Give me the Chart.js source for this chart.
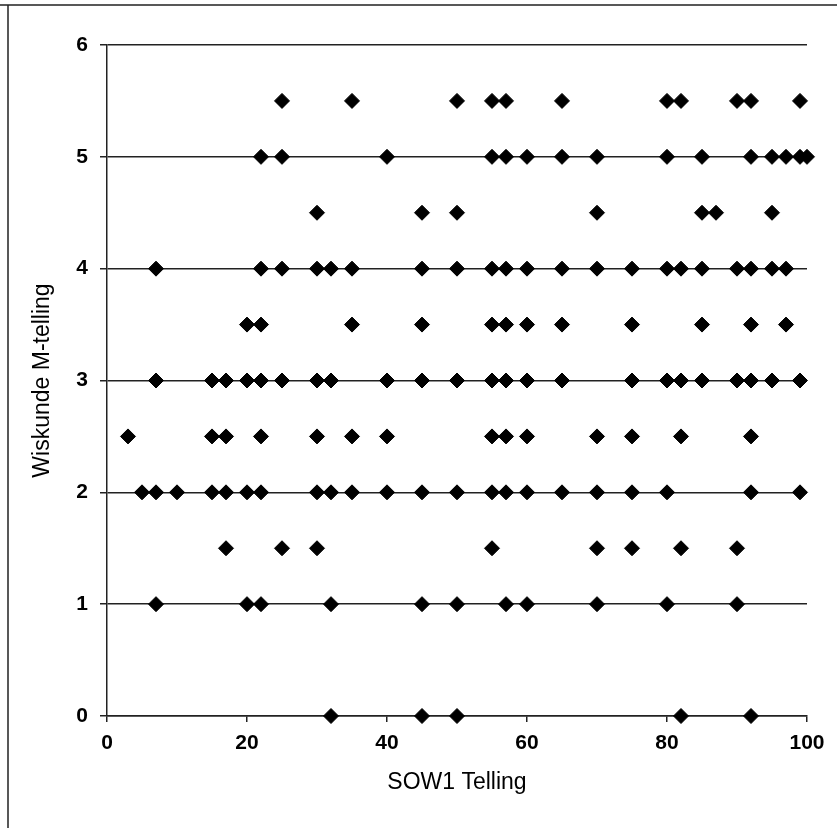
<!DOCTYPE html>
<html>
<head>
<meta charset="utf-8">
<script src="https://cdn.jsdelivr.net/npm/chart.js@4/dist/chart.umd.min.js"></script>
<style>
  html, body { margin: 0; padding: 0; background: #fff; }
  #wrap { width: 837px; height: 828px; position: relative; }
</style>
</head>
<body>
<div id="wrap"><canvas id="c"></canvas></div>
<script>
// SOW1 Telling (x) values, grouped by Wiskunde M-telling (y) level
const yLevels = [0, 1, 1.5, 2, 2.5, 3, 3.5, 4, 4.5, 5, 5.5];
const xAtY0   = [32, 45, 50, 82, 92];
const xAtY1   = [7, 20, 22, 32, 45, 50, 57, 60, 70, 80, 90];
const xAtY1_5 = [17, 25, 30, 55, 70, 75, 82, 90];
const xAtY2   = [5, 7, 10, 15, 17, 20, 22, 30, 32, 35, 40, 45, 50, 55, 57, 60, 65, 70, 75, 80, 92, 99];
const xAtY2_5 = [3, 15, 17, 22, 30, 35, 40, 55, 57, 60, 70, 75, 82, 92];
const xAtY3   = [7, 15, 17, 20, 22, 25, 30, 32, 40, 45, 50, 55, 57, 60, 65, 75, 80, 82, 85, 90, 92, 95, 99];
const xAtY3_5 = [20, 22, 35, 45, 55, 57, 60, 65, 75, 85, 92, 97];
const xAtY4   = [7, 22, 25, 30, 32, 35, 45, 50, 55, 57, 60, 65, 70, 75, 80, 82, 85, 90, 92, 95, 97];
const xAtY4_5 = [30, 45, 50, 70, 85, 87, 95];
const xAtY5   = [22, 25, 40, 55, 57, 60, 65, 70, 80, 85, 92, 95, 97, 99, 100];
const xAtY5_5 = [25, 35, 50, 55, 57, 65, 80, 82, 90, 92, 99];
const xGroups = [xAtY0, xAtY1, xAtY1_5, xAtY2, xAtY2_5, xAtY3, xAtY3_5, xAtY4, xAtY4_5, xAtY5, xAtY5_5];

const xTitle = 'SOW1 Telling';
const yTitle = 'Wiskunde M-telling';

const points = [];
xGroups.forEach((xs, i) => xs.forEach(x => points.push({ x: x, y: yLevels[i] })));

const FONT = "'Liberation Sans', Arial, sans-serif";

const framePlugin = {
  id: 'frame',
  beforeDraw(chart) {
    const ctx = chart.ctx;
    ctx.save();
    ctx.fillStyle = '#fff';
    ctx.fillRect(0, 0, chart.width, chart.height);
    ctx.strokeStyle = '#222';
    ctx.lineWidth = 1.5;
    ctx.beginPath();
    ctx.moveTo(0, 5);
    ctx.lineTo(chart.width, 5);
    ctx.moveTo(8, 5);
    ctx.lineTo(8, chart.height);
    ctx.stroke();
    ctx.restore();
  }
};

new Chart(document.getElementById('c'), {
  type: 'scatter',
  data: {
    datasets: [{
      data: points,
      pointStyle: 'rectRot',
      pointRadius: 7.5,
      pointHoverRadius: 7.5,
      backgroundColor: '#000',
      borderColor: '#000',
      borderWidth: 1,
      clip: false
    }]
  },
  options: {
    responsive: true,
    maintainAspectRatio: false,
    animation: false,
    events: [],
    layout: { padding: { left: 0, top: 45, right: 30, bottom: 0 } },
    plugins: { legend: { display: false }, tooltip: { enabled: false } },
    scales: {
      x: {
        type: 'linear',
        min: 0, max: 100,
        ticks: { stepSize: 20, color: '#000', font: { family: FONT, size: 21, weight: 'bold' }, padding: 9, maxRotation: 0 },
        grid: { drawOnChartArea: false, drawTicks: true, tickLength: 6, color: '#222', lineWidth: 1.5 },
        border: { display: true, color: '#222', width: 1.5 },
        title: { display: true, text: xTitle, color: '#000', font: { family: FONT, size: 23 }, padding: { top: 0, bottom: 32 } },
        afterFit(scale) { scale.height = 112; }
      },
      y: {
        type: 'linear',
        min: 0, max: 6,
        ticks: { stepSize: 1, color: '#000', font: { family: FONT, size: 21, weight: 'bold' }, padding: 12 },
        grid: { drawOnChartArea: true, drawTicks: true, tickLength: 7, color: '#222', lineWidth: 1.5 },
        border: { display: true, color: '#222', width: 1.5 },
        title: { display: true, text: yTitle, color: '#000', font: { family: FONT, size: 23 }, padding: { top: 29, bottom: 0 } },
        afterFit(scale) { scale.width = 107; }
      }
    }
  },
  plugins: [framePlugin]
});
</script>
</body>
</html>
